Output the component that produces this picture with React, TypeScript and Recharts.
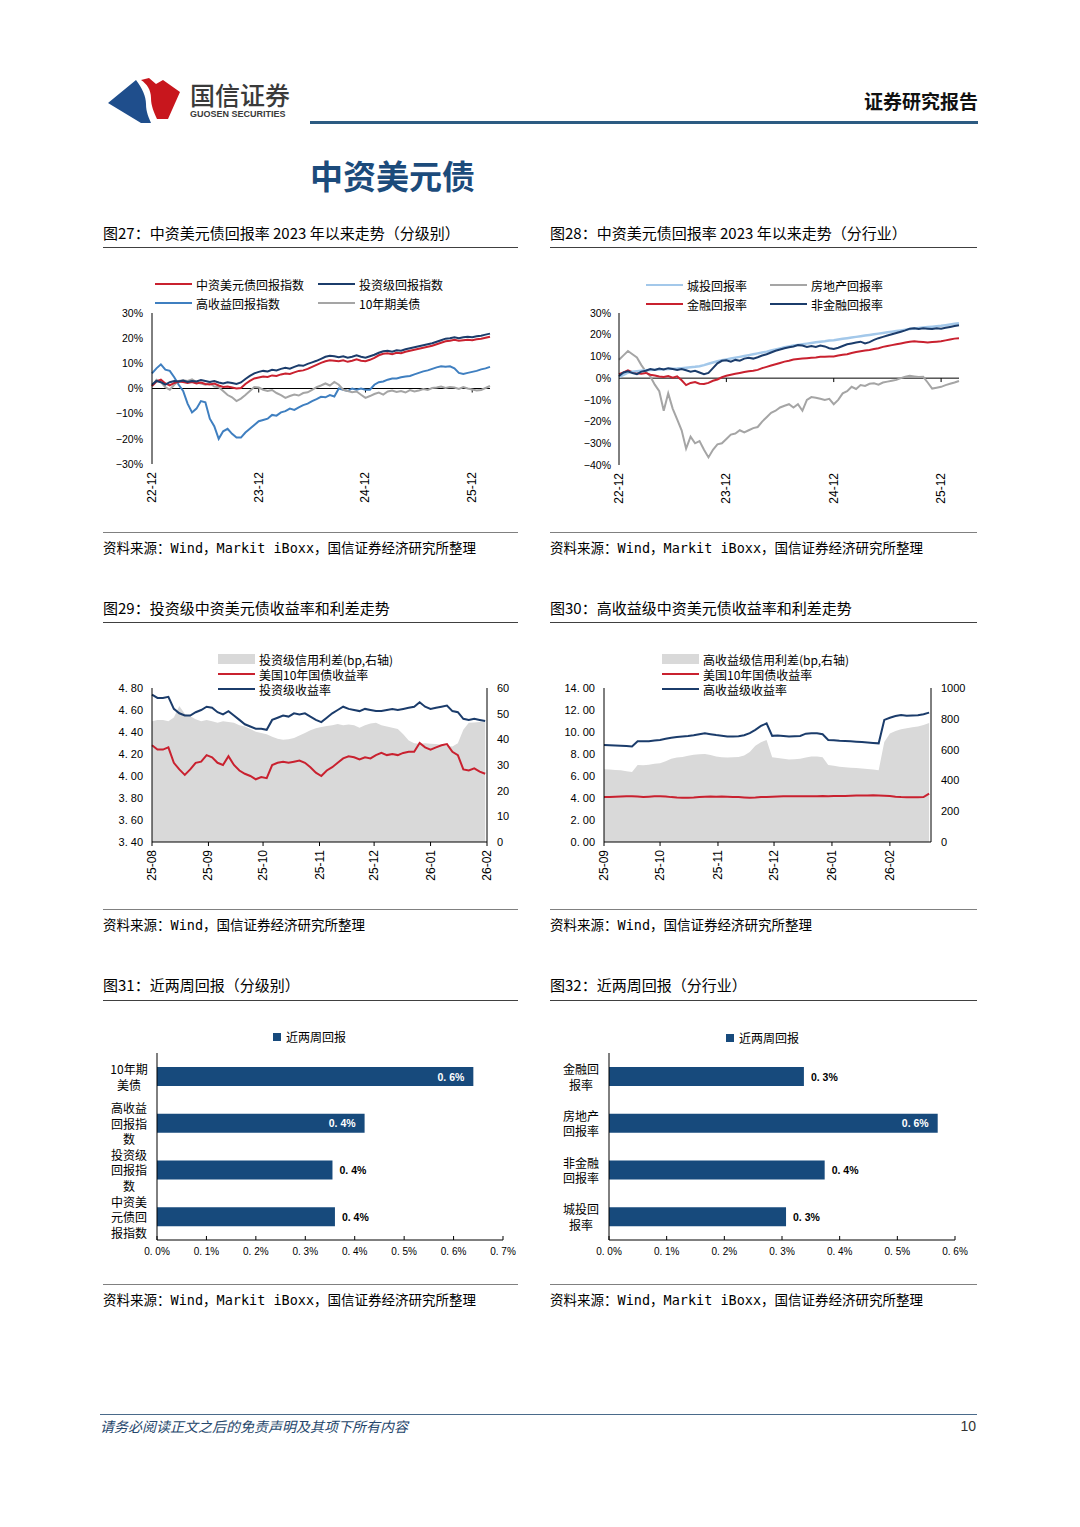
import React from "react";
import {
  LineChart,
  Line,
  ComposedChart,
  Area,
  BarChart,
  Bar,
  LabelList,
  XAxis,
  YAxis,
  ReferenceLine,
} from "recharts";

const CJK = '"Noto Sans CJK SC", "Noto Sans", sans-serif';
const SANS = '"Liberation Sans", Arial, "Noto Sans CJK SC", sans-serif';
const MONO = '"DejaVu Sans Mono", "Noto Sans CJK SC", monospace';

const RED = "#c9212f";
const NAVY = "#1b3c6b";
const HY_BLUE = "#3f7fc0";
const GREY = "#a5a5a5";
const LIGHT_BLUE = "#a3c8ea";
const AREA_GREY = "#d9d9d9";
const BAR_BLUE = "#174a7c";

// ---- 图27 / 图28: half-month steps starting 22-12 (%)
const retTicks = [0, 24, 48, 72];
const retTickLabels = ["22-12", "23-12", "24-12", "25-12"];
const ret27YTicks = [-30, -20, -10, 0, 10, 20, 30];
const ret28YTicks = [-40, -30, -20, -10, 0, 10, 20, 30];

const cnUsdIndex = [
  1.0, 2.8, 3.5, 2.0, 1.2, 2.2, 2.8, 2.6, 2.2, 2.6,
  2.0, 2.4, 1.8, 1.6, 2.0, 1.2, 0.6, 0.8, 0.4, 0.0,
  0.2, 1.8, 3.0, 4.0, 4.4, 4.8, 4.6, 5.2, 5.0, 5.6,
  6.0, 5.8, 6.4, 7.0, 7.2, 7.8, 8.6, 9.4, 10.2, 10.8,
  11.2, 11.0, 10.8, 11.2, 10.6, 11.0, 11.6, 11.0, 10.8, 11.4,
  12.2, 13.2, 13.8, 14.0, 13.6, 14.2, 14.0, 14.6, 15.0, 15.4,
  15.8, 16.2, 16.6, 17.0, 17.6, 18.2, 18.8, 19.0, 19.4, 19.0,
  19.2, 19.4, 19.2, 19.6, 19.8, 20.2, 20.6,
];
const igIndex = [
  1.5, 3.0, 2.5, 1.5, 2.5, 3.0, 2.8, 3.2, 2.6, 3.0,
  2.8, 3.4, 3.0, 2.6, 3.0, 2.4, 2.0, 2.5, 2.2, 1.8,
  2.4, 3.8, 5.0, 6.0, 6.6, 7.0, 6.8, 7.4, 7.2, 7.8,
  8.2, 7.9, 8.6, 9.2, 9.0, 9.8, 10.4, 11.0, 11.8, 12.6,
  13.0, 12.8, 12.4, 12.8, 12.2, 12.6, 13.2, 12.6, 12.2, 12.8,
  13.4, 14.2, 14.8, 15.0, 14.6, 15.2, 15.0, 15.6, 16.0, 16.4,
  16.8, 17.2, 17.6, 18.0, 18.6, 19.2, 19.8, 20.0, 20.4, 20.0,
  20.4, 20.6, 20.4, 20.8, 21.0, 21.4, 21.8,
];
const hyIndex = [
  6.0, 8.0, 9.6, 7.5, 7.0, 4.5, 1.5, -1.0, -6.0, -9.5,
  -8.0, -5.0, -5.5, -12.0, -15.0, -20.0, -17.0, -16.0, -18.0, -19.5,
  -19.5, -17.5, -16.0, -14.5, -13.0, -12.5, -12.0, -10.5, -10.8, -9.5,
  -9.0, -8.0, -8.5, -7.5, -6.6, -6.0, -5.0, -4.2, -3.3, -3.5,
  -2.6, -3.2, 0.0, -0.5, -1.0, 0.0, -0.5, 0.0, -0.5, -0.5,
  1.5, 2.5, 2.8, 3.5, 4.0, 4.0, 4.5, 4.8, 5.0, 5.6,
  6.2, 6.8, 7.2, 7.8, 8.4, 8.8, 8.6, 8.8, 8.0, 6.2,
  5.8, 6.2, 6.6, 7.0, 7.6, 8.0, 8.6,
];
const ust10yRet = [
  1.0, 3.5, 2.5, 0.5, -0.5, 1.5, 3.0, 3.3, 3.0, 3.6,
  2.5, 2.0, 1.5, 2.2, 0.8, 0.5, -1.0, -2.6, -3.5, -5.0,
  -4.0, -2.6, -1.0, 0.6, 0.4, -0.5, -1.0, -0.6, -1.8, -2.6,
  -3.7, -3.0, -2.4, -2.8, -1.8, -1.5, -0.5, 0.5, 1.2, 2.0,
  1.2, 2.6, 1.5, -0.5, -1.0, -1.5, -1.2, -2.5, -3.7, -3.0,
  -2.2, -1.6, -2.4, -1.2, -0.8, -1.4, -1.0, -1.6, -0.6, -1.2,
  -0.8, -0.2, -0.6, 0.2, 0.4, 0.8, 0.2, 0.6, 0.4, -0.2,
  0.6, 0.0, -0.4, -0.8, -0.6, 0.2, 1.0,
];

const lgfvRet = [
  0.5, 1.5, 2.5, 3.0, 3.2, 3.4, 3.6, 3.8, 3.9, 4.0,
  4.1, 4.2, 4.3, 4.4, 4.6, 4.8, 5.0, 5.2, 5.5, 6.0,
  6.6, 7.2, 7.8, 8.2, 8.6, 9.0, 9.4, 9.8, 10.2, 10.6,
  11.0, 11.4, 11.8, 12.2, 12.7, 13.2, 13.7, 14.2, 14.6, 15.0,
  15.3, 15.6, 15.9, 16.2, 16.5, 16.8, 17.0, 17.3, 17.5, 17.8,
  18.1, 18.4, 18.7, 19.0, 19.3, 19.6, 19.9, 20.2, 20.5, 20.8,
  21.1, 21.4, 21.7, 22.0, 22.3, 22.6, 22.9, 23.1, 23.3, 23.5,
  23.7, 23.9, 24.1, 24.4, 24.7, 25.0, 25.3,
];
const propertyRet = [
  8.5, 10.5, 12.5, 11.0, 9.5, 6.0, 3.0, 0.8, -3.0, -6.0,
  -15.0, -7.0, -14.0, -19.0, -24.0, -32.5, -27.0, -30.0, -29.0, -33.0,
  -36.5, -33.0, -30.5, -30.0, -28.0, -26.0, -25.5, -24.0, -25.0, -24.0,
  -23.0, -22.5, -20.0, -18.0, -16.0, -15.0, -13.5, -12.7, -12.0, -13.5,
  -12.0, -15.0, -10.0, -8.7, -9.0, -9.5, -10.0, -9.5, -12.0, -10.0,
  -7.0, -6.0, -4.0, -5.0, -3.2, -3.6, -2.6, -2.4, -3.0, -2.0,
  -1.6, -1.2, -0.8, 0.0, 0.6, 1.1, 0.8, 0.5, 0.6, -2.0,
  -4.8, -4.4, -4.0, -3.2, -2.6, -2.0, -1.3,
];
const financialRet = [
  1.8, 2.6, 3.6, 2.8, 2.2, 2.0, 2.4, 1.6, 1.2, 0.8,
  0.5, 1.0, 0.2, 0.8, -1.0, -3.2, -2.2, -1.8, -2.6, -2.7,
  -2.2, -1.2, -0.6, 0.4, 1.1, 1.6, 2.0, 2.4, 2.8, 3.2,
  3.4, 3.8, 4.6, 5.2, 5.8, 6.4, 7.0, 7.6, 8.0, 8.6,
  8.8, 9.0, 9.2, 9.4, 9.5, 9.8, 9.8, 10.0, 10.0, 10.4,
  10.8, 11.0, 11.6, 12.0, 12.4, 12.7, 13.0, 13.4, 13.8, 14.4,
  14.8, 15.2, 15.6, 16.0, 16.4, 16.8, 17.0, 16.8, 16.6, 16.4,
  16.6, 16.8, 17.0, 17.4, 17.8, 18.2, 18.4,
];
const nonFinRet = [
  1.0, 2.6, 3.2, 2.4, 1.8, 3.0, 3.4, 4.2, 3.8, 4.4,
  4.0, 4.6, 4.2, 3.8, 4.2, 3.6, 3.0, 3.4, 2.6, 1.8,
  2.4, 4.6, 6.8, 8.0, 8.2, 7.6, 8.4, 8.0, 9.0, 9.4,
  9.0, 9.6, 10.4, 11.0, 11.8, 12.6, 13.2, 13.8, 14.2, 14.6,
  15.2, 15.0, 14.4, 14.8, 14.4, 15.0, 14.6, 13.8, 13.4, 14.0,
  14.8, 15.6, 16.0, 16.4, 16.8, 16.0, 16.6, 17.6, 18.4, 19.0,
  19.6, 20.2, 20.8, 21.4, 22.0, 22.8, 23.0, 22.6, 23.0, 22.8,
  22.6, 23.0, 22.8, 23.2, 23.6, 24.0, 24.4,
];

// ---- 图29: every 3 days from 25-08-01
const igDayTicks = [0, 31, 61, 92, 122, 153, 184];
const igDayLabels = ["25-08", "25-09", "25-10", "25-11", "25-12", "26-01", "26-02"];
const igLeftTicks = [3.4, 3.6, 3.8, 4.0, 4.2, 4.4, 4.6, 4.8];
const igRightTicks = [0, 10, 20, 30, 40, 50, 60];
const igSpread = [
  47, 47.5, 47.5, 47, 48.5, 53, 50, 49, 47.8, 47,
  47.5, 47, 46.5, 47, 46.8, 46.5, 45.5, 45, 44, 43,
  42.5, 42, 41, 40.2, 39.8, 40, 40.5, 41.5, 42.5, 43.5,
  44.3, 44.8, 45.2, 45.5, 46, 45.5, 45.8, 45.5, 44.5, 45.5,
  46.2, 46.5, 45.5, 45, 44.5, 44, 42, 39.5, 38.5, 38.3,
  38.5, 38.3, 38.2, 37.9, 37.5, 37.2, 38.5, 43.7, 46.5, 46.6,
  46.8, 46.9,
];
const igYield = [
  4.74, 4.71, 4.71, 4.72, 4.61, 4.57, 4.55, 4.55, 4.58, 4.6,
  4.63, 4.62, 4.58, 4.56, 4.59, 4.55, 4.51, 4.47, 4.45, 4.43,
  4.43, 4.42, 4.51, 4.53, 4.55, 4.54, 4.57, 4.56, 4.57, 4.54,
  4.51, 4.49, 4.53, 4.57, 4.6, 4.63, 4.61, 4.6, 4.59, 4.61,
  4.6, 4.59, 4.59, 4.6, 4.61, 4.6, 4.61, 4.62, 4.63, 4.67,
  4.63, 4.61, 4.62, 4.63, 4.64, 4.59, 4.58, 4.52, 4.51, 4.52,
  4.51, 4.5,
];
const ustYieldIg = [
  4.28, 4.24, 4.24, 4.26, 4.12, 4.06, 4.01, 4.06, 4.12, 4.13,
  4.19, 4.17, 4.12, 4.1, 4.18, 4.1, 4.05, 4.02, 4.0, 3.97,
  3.99, 3.98, 4.1, 4.12, 4.13, 4.12, 4.13, 4.14, 4.12, 4.08,
  4.03, 4.0, 4.05, 4.08, 4.12, 4.16, 4.18, 4.17, 4.15, 4.17,
  4.16, 4.19, 4.21, 4.19, 4.2, 4.19, 4.21, 4.22, 4.22, 4.3,
  4.26, 4.24, 4.26, 4.28, 4.29, 4.22, 4.19, 4.06, 4.05, 4.07,
  4.04, 4.02,
];

// ---- 图30: every 3 days from 25-09-01
const hyDayTicks = [0, 30, 61, 91, 122, 153];
const hyDayLabels = ["25-09", "25-10", "25-11", "25-12", "26-01", "26-02"];
const hyLeftTicks = [0, 2, 4, 6, 8, 10, 12, 14];
const hyRightTicks = [0, 200, 400, 600, 800, 1000];
const hySpread = [
  472, 470, 468, 466, 460, 455, 500, 498, 502, 508,
  512, 525, 540, 548, 552, 560, 566, 570, 572, 565,
  556, 550, 548, 550, 552, 562, 585, 625, 648, 662,
  550, 545, 540, 536, 538, 540, 548, 556, 555, 550,
  500, 495, 488, 485, 482, 480, 478, 474, 470, 466,
  650, 705, 720, 732, 738, 745, 750, 760, 772,
];
const hyYield = [
  8.82, 8.8, 8.78, 8.76, 8.72, 8.68, 9.15, 9.15, 9.16, 9.22,
  9.27, 9.38, 9.48, 9.55, 9.6, 9.64, 9.7, 9.8, 9.88, 9.8,
  9.72, 9.66, 9.6, 9.58, 9.62, 9.7, 9.9, 10.2, 10.55, 10.78,
  9.65, 9.68, 9.64, 9.6, 9.62, 9.64, 9.85, 9.88, 9.88, 9.8,
  9.28, 9.25, 9.2, 9.18, 9.15, 9.12, 9.08, 9.04, 9.0, 8.97,
  11.1, 11.3, 11.45, 11.55, 11.48, 11.5, 11.52, 11.62, 11.76,
];
const ustYieldHy = [
  4.1, 4.09, 4.12, 4.13, 4.15, 4.16, 4.13, 4.1, 4.12, 4.15,
  4.16, 4.14, 4.08, 4.04, 4.02, 4.03, 4.05, 4.1, 4.12, 4.13,
  4.12, 4.14, 4.12, 4.1, 4.08, 4.05, 4.03, 4.04, 4.08, 4.1,
  4.12, 4.14, 4.15, 4.16, 4.17, 4.16, 4.15, 4.16, 4.17, 4.18,
  4.17, 4.18, 4.19, 4.18, 4.2, 4.22, 4.23, 4.22, 4.24, 4.22,
  4.2, 4.18, 4.12, 4.08, 4.06, 4.07, 4.06, 4.08, 4.4,
];

// ---- 图31 / 图32: 近两周回报 (%)
const gradeNames = ["10年期美债", "高收益回报指数", "投资级回报指数", "中资美元债回报指数"];
const gradeLines = [["10年期", "美债"], ["高收益", "回报指", "数"], ["投资级", "回报指", "数"], ["中资美", "元债回", "报指数"]];
const gradeReturns = [0.64, 0.42, 0.355, 0.36];
const gradeTicks = [0, 0.1, 0.2, 0.3, 0.4, 0.5, 0.6, 0.7];

const sectorNames = ["金融回报率", "房地产回报率", "非金融回报率", "城投回报率"];
const sectorLines = [["金融回", "报率"], ["房地产", "回报率"], ["非金融", "回报率"], ["城投回", "报率"]];
const sectorReturns = [0.338, 0.57, 0.374, 0.307];
const sectorTicks = [0, 0.1, 0.2, 0.3, 0.4, 0.5, 0.6];

const pct = (v: number) => (v < 0 ? "\u2212" : "") + Math.abs(v) + "%";
const spaced = (s: string) => s.replace(".", ". ");

const DateTick = (props: any) => {
  const { x, y, payload, ticks, labels, mark } = props;
  const label = labels[ticks.indexOf(payload.value)];
  const ty = y + 8;
  return (
    <g>
      {mark && <line x1={x} x2={x} y1={y} y2={y + 4} stroke="#000" strokeWidth={1} />}
      <text
        x={x}
        y={ty}
        transform={`rotate(-90 ${x} ${ty})`}
        textAnchor="end"
        dominantBaseline="central"
        fontSize={12}
        fontFamily={SANS}
        fill="#000"
      >
        {label}
      </text>
    </g>
  );
};

const PctTick = (props: any) => {
  const { x, y, payload } = props;
  return (
    <g>
      <line x1={x} x2={x} y1={y} y2={y - 4} stroke="#000" strokeWidth={1} />
      <text x={x} y={y + 15} textAnchor="middle" fontSize={10} fontFamily={SANS} fill="#000">
        {spaced(payload.value.toFixed(1)) + "%"}
      </text>
    </g>
  );
};

const CatTick = (props: any) => {
  const { x, y, payload, names, lines } = props;
  const ls: string[] = lines[names.indexOf(payload.value)] || [payload.value];
  const lh = 15.5;
  const y0 = y - ((ls.length - 1) * lh) / 2;
  return (
    <text textAnchor="middle" fontSize={12} fontFamily={CJK} fill="#000">
      {ls.map((l, k) => (
        <tspan key={k} x={x - 28} y={y0 + k * lh} dominantBaseline="central">
          {l}
        </tspan>
      ))}
    </text>
  );
};

const BarValueLabel = (props: any) => {
  const { x, y, width, height, value } = props;
  const inside = value >= 0.4;
  return (
    <text
      x={inside ? x + width - 9 : x + width + 7}
      y={y + height / 2}
      textAnchor={inside ? "end" : "start"}
      dominantBaseline="central"
      fill={inside ? "#fff" : "#000"}
      fontSize={10.5}
      fontWeight="bold"
      fontFamily={SANS}
    >
      {spaced(Number(value).toFixed(1)) + "%"}
    </text>
  );
};

const axisTick = { fontSize: 10.5, fill: "#000", fontFamily: SANS };

function GradeReturnChart() {
  const data = cnUsdIndex.map((v, i) => ({ i, cn: v, ig: igIndex[i], hy: hyIndex[i], ust: ust10yRet[i] }));
  return (
    <LineChart width={410} height={210} data={data} margin={{ top: 13, right: 20, bottom: 0, left: 0 }}>
      <XAxis
        type="number"
        dataKey="i"
        domain={[0, 76]}
        ticks={retTicks}
        interval={0}
        height={46}
        axisLine={false}
        tickLine={false}
        tickSize={0}
        tickMargin={0}
        tick={<DateTick ticks={retTicks} labels={retTickLabels} />}
      />
      <YAxis
        type="number"
        domain={[-30, 30]}
        ticks={ret27YTicks}
        interval={0}
        width={52}
        axisLine={{ stroke: "#000" }}
        tickLine={false}
        tickSize={0}
        tickMargin={9}
        tickFormatter={pct}
        tick={axisTick}
      />
      <ReferenceLine y={0} stroke="#000" strokeWidth={1} />
      {retTicks.slice(1).map((t) => (
        <ReferenceLine key={t} segment={[{ x: t, y: 0 }, { x: t, y: -1.6 }]} stroke="#000" />
      ))}
      <Line dataKey="hy" type="linear" stroke={HY_BLUE} strokeWidth={2} dot={false} isAnimationActive={false} />
      <Line dataKey="ust" type="linear" stroke={GREY} strokeWidth={2} dot={false} isAnimationActive={false} />
      <Line dataKey="cn" type="linear" stroke={RED} strokeWidth={2} dot={false} isAnimationActive={false} />
      <Line dataKey="ig" type="linear" stroke={NAVY} strokeWidth={2} dot={false} isAnimationActive={false} />
    </LineChart>
  );
}

function SectorReturnChart() {
  const data = lgfvRet.map((v, i) => ({ i, lgfv: v, prop: propertyRet[i], fin: financialRet[i], nonfin: nonFinRet[i] }));
  return (
    <LineChart width={430} height={210} data={data} margin={{ top: 13, right: 21, bottom: 0, left: 0 }}>
      <XAxis
        type="number"
        dataKey="i"
        domain={[0, 76]}
        ticks={retTicks}
        interval={0}
        height={45}
        axisLine={false}
        tickLine={false}
        tickSize={0}
        tickMargin={0}
        tick={<DateTick ticks={retTicks} labels={retTickLabels} />}
      />
      <YAxis
        type="number"
        domain={[-40, 30]}
        ticks={ret28YTicks}
        interval={0}
        width={69}
        axisLine={{ stroke: "#000" }}
        tickLine={false}
        tickSize={0}
        tickMargin={8}
        tickFormatter={pct}
        tick={axisTick}
      />
      <ReferenceLine y={0} stroke="#000" strokeWidth={1} />
      {retTicks.slice(1).map((t) => (
        <ReferenceLine key={t} segment={[{ x: t, y: 0 }, { x: t, y: -1.8 }]} stroke="#000" />
      ))}
      <Line dataKey="prop" type="linear" stroke={GREY} strokeWidth={2} dot={false} isAnimationActive={false} />
      <Line dataKey="fin" type="linear" stroke={RED} strokeWidth={2} dot={false} isAnimationActive={false} />
      <Line dataKey="lgfv" type="linear" stroke={LIGHT_BLUE} strokeWidth={2.5} dot={false} isAnimationActive={false} />
      <Line dataKey="nonfin" type="linear" stroke={NAVY} strokeWidth={2} dot={false} isAnimationActive={false} />
    </LineChart>
  );
}

function SpreadChart(props: {
  width: number;
  spread: number[];
  yieldS: number[];
  ust: number[];
  dayTicks: number[];
  dayLabels: string[];
  maxDay: number;
  leftTicks: number[];
  rightTicks: number[];
  leftW: number;
  rightW: number;
}) {
  const { width, spread, yieldS, ust, dayTicks, dayLabels, maxDay, leftTicks, rightTicks, leftW, rightW } = props;
  const data = spread.map((s, k) => ({ d: k * 3, spread: s, yld: yieldS[k], ust: ust[k] }));
  return (
    <ComposedChart width={width} height={245} data={data} margin={{ top: 43, right: 0, bottom: 0, left: 0 }}>
      <XAxis
        type="number"
        dataKey="d"
        domain={[0, maxDay]}
        ticks={dayTicks}
        interval={0}
        height={48}
        axisLine={{ stroke: "#000" }}
        tickLine={false}
        tickSize={0}
        tickMargin={0}
        tick={<DateTick ticks={dayTicks} labels={dayLabels} mark />}
      />
      <YAxis
        yAxisId="l"
        type="number"
        domain={[leftTicks[0], leftTicks[leftTicks.length - 1]]}
        ticks={leftTicks}
        interval={0}
        width={leftW}
        axisLine={{ stroke: "#000" }}
        tickLine={false}
        tickSize={0}
        tickMargin={9}
        tickFormatter={(v: number) => spaced(v.toFixed(2))}
        tick={{ ...axisTick, fontSize: 11 }}
      />
      <YAxis
        yAxisId="r"
        orientation="right"
        type="number"
        domain={[rightTicks[0], rightTicks[rightTicks.length - 1]]}
        ticks={rightTicks}
        interval={0}
        width={rightW}
        axisLine={{ stroke: "#000" }}
        tickLine={false}
        tickSize={0}
        tickMargin={10}
        tick={{ ...axisTick, fontSize: 11 }}
      />
      <Area
        yAxisId="r"
        dataKey="spread"
        type="linear"
        fill={AREA_GREY}
        fillOpacity={1}
        stroke="none"
        isAnimationActive={false}
      />
      <Line yAxisId="l" dataKey="ust" type="linear" stroke={RED} strokeWidth={2} dot={false} isAnimationActive={false} />
      <Line yAxisId="l" dataKey="yld" type="linear" stroke={NAVY} strokeWidth={2} dot={false} isAnimationActive={false} />
    </ComposedChart>
  );
}

function ReturnBars(props: {
  width: number;
  names: string[];
  lines: string[][];
  values: number[];
  ticks: number[];
  yW: number;
  right: number;
}) {
  const { width, names, lines, values, ticks, yW, right } = props;
  const data = names.map((n, k) => ({ name: n, v: values[k] }));
  return (
    <BarChart
      layout="vertical"
      width={width}
      height={250}
      data={data}
      margin={{ top: 33, right, bottom: 0, left: 0 }}
      barSize={19}
    >
      <XAxis
        type="number"
        domain={[0, ticks[ticks.length - 1]]}
        ticks={ticks}
        interval={0}
        height={30}
        axisLine={{ stroke: "#000" }}
        tickLine={false}
        tickSize={0}
        tickMargin={0}
        tick={<PctTick />}
      />
      <YAxis
        type="category"
        dataKey="name"
        width={yW}
        axisLine={{ stroke: "#000" }}
        tickLine={false}
        tickSize={0}
        tickMargin={0}
        interval={0}
        tick={<CatTick names={names} lines={lines} />}
      />
      <Bar dataKey="v" fill={BAR_BLUE} isAnimationActive={false}>
        <LabelList dataKey="v" content={<BarValueLabel />} />
      </Bar>
    </BarChart>
  );
}

const Txt = (p: { x?: number; right?: number; y: number; size: number; style?: React.CSSProperties; children: React.ReactNode }) => (
  <div
    style={{
      position: "absolute",
      left: p.x,
      right: p.right,
      top: p.y - p.size * 0.75,
      fontSize: p.size,
      lineHeight: `${p.size * 1.5}px`,
      whiteSpace: "nowrap",
      ...p.style,
    }}
  >
    {p.children}
  </div>
);

const HLine = (p: { x1: number; x2: number; y: number; color: string; h?: number }) => (
  <div style={{ position: "absolute", left: p.x1, top: p.y, width: p.x2 - p.x1, height: p.h || 1, background: p.color }} />
);

const LegendItem = (p: { x: number; y: number; color: string; label: string; box?: boolean }) => (
  <div
    style={{
      position: "absolute",
      left: p.x,
      top: p.y - 9,
      height: 18,
      display: "flex",
      alignItems: "center",
      whiteSpace: "nowrap",
      fontSize: 12,
      fontFamily: CJK,
      color: "#000",
    }}
  >
    <span
      style={{
        display: "inline-block",
        width: 37,
        height: p.box ? 10 : 2.5,
        background: p.color,
        marginRight: 4,
      }}
    />
    <span>{p.label}</span>
  </div>
);

const Abs = (p: { x: number; y: number; children: React.ReactNode }) => (
  <div style={{ position: "absolute", left: p.x, top: p.y }}>{p.children}</div>
);

const srcFull = "资料来源：Wind，Markit iBoxx，国信证券经济研究所整理";
const srcWind = "资料来源：Wind，国信证券经济研究所整理";

export default function App() {
  const titleStyle = { fontFamily: CJK, color: "#000" };
  const srcStyle = { fontFamily: MONO, color: "#000", letterSpacing: 0 };
  return (
    <div
      style={{
        position: "absolute",
        left: 0,
        top: 0,
        width: 1080,
        height: 1527,
        background: "#fff",
        fontFamily: CJK,
        color: "#000",
        overflow: "hidden",
      }}
    >
      {/* header */}
      <svg style={{ position: "absolute", left: 0, top: 0 }} width={200} height={130}>
        <path d="M108,103 L136,80 C142,88 146,96 146,104 C146,112 149,118 151,123 L141,123 Z" fill="#1f4e8c" />
        <path
          d="M141,80 L149,78 L156,84 L163,80 L180,92 L168,119 L157,119 C154,112 151,106 151,98 C151,90 147,84 141,80 Z"
          fill="#c8161d"
        />
      </svg>
      <Txt x={190} y={95} size={25} style={{ fontWeight: 500, color: "#3a3a3a" }}>
        国信证券
      </Txt>
      <Txt x={190} y={115} size={9} style={{ fontFamily: SANS, fontWeight: "bold", color: "#3a3a3a" }}>
        GUOSEN SECURITIES
      </Txt>
      <Txt right={102} y={101} size={19} style={{ fontWeight: 600, color: "#111" }}>
        证券研究报告
      </Txt>
      <HLine x1={310} x2={978} y={121} h={3} color="#2c5b82" />
      <Txt x={310} y={176} size={33} style={{ fontWeight: 700, color: "#1c4b7b" }}>
        中资美元债
      </Txt>

      {/* row 1 */}
      <Txt x={103} y={233} size={15} style={titleStyle}>
        图27：中资美元债回报率 2023 年以来走势（分级别）
      </Txt>
      <Txt x={550} y={233} size={15} style={titleStyle}>
        图28：中资美元债回报率 2023 年以来走势（分行业）
      </Txt>
      <HLine x1={103} x2={518} y={247} color="#404040" />
      <HLine x1={550} x2={977} y={247} color="#404040" />
      <Abs x={100} y={300}>
        <GradeReturnChart />
      </Abs>
      <Abs x={550} y={300}>
        <SectorReturnChart />
      </Abs>
      <LegendItem x={155} y={284} color={RED} label="中资美元债回报指数" />
      <LegendItem x={318} y={284} color={NAVY} label="投资级回报指数" />
      <LegendItem x={155} y={303} color={HY_BLUE} label="高收益回报指数" />
      <LegendItem x={318} y={303} color={GREY} label="10年期美债" />
      <LegendItem x={646} y={285} color={LIGHT_BLUE} label="城投回报率" />
      <LegendItem x={770} y={285} color={GREY} label="房地产回报率" />
      <LegendItem x={646} y={304} color={RED} label="金融回报率" />
      <LegendItem x={770} y={304} color={NAVY} label="非金融回报率" />
      <HLine x1={103} x2={518} y={532} color="#808080" />
      <HLine x1={550} x2={977} y={532} color="#808080" />
      <Txt x={103} y={548} size={13.5} style={srcStyle}>
        {srcFull}
      </Txt>
      <Txt x={550} y={548} size={13.5} style={srcStyle}>
        {srcFull}
      </Txt>

      {/* row 2 */}
      <Txt x={103} y={608} size={15} style={titleStyle}>
        图29：投资级中资美元债收益率和利差走势
      </Txt>
      <Txt x={550} y={608} size={15} style={titleStyle}>
        图30：高收益级中资美元债收益率和利差走势
      </Txt>
      <HLine x1={103} x2={518} y={622} color="#404040" />
      <HLine x1={550} x2={977} y={622} color="#404040" />
      <Abs x={100} y={645}>
        <SpreadChart
          width={420}
          spread={igSpread}
          yieldS={igYield}
          ust={ustYieldIg}
          dayTicks={igDayTicks}
          dayLabels={igDayLabels}
          maxDay={184}
          leftTicks={igLeftTicks}
          rightTicks={igRightTicks}
          leftW={52}
          rightW={33}
        />
      </Abs>
      <Abs x={550} y={645}>
        <SpreadChart
          width={430}
          spread={hySpread}
          yieldS={hyYield}
          ust={ustYieldHy}
          dayTicks={hyDayTicks}
          dayLabels={hyDayLabels}
          maxDay={175}
          leftTicks={hyLeftTicks}
          rightTicks={hyRightTicks}
          leftW={54}
          rightW={49}
        />
      </Abs>
      <LegendItem x={218} y={659} color={AREA_GREY} label="投资级信用利差(bp,右轴)" box />
      <LegendItem x={218} y={674} color={RED} label="美国10年国债收益率" />
      <LegendItem x={218} y={689} color={NAVY} label="投资级收益率" />
      <LegendItem x={662} y={659} color={AREA_GREY} label="高收益级信用利差(bp,右轴)" box />
      <LegendItem x={662} y={674} color={RED} label="美国10年国债收益率" />
      <LegendItem x={662} y={689} color={NAVY} label="高收益级收益率" />
      <HLine x1={103} x2={518} y={909} color="#808080" />
      <HLine x1={550} x2={977} y={909} color="#808080" />
      <Txt x={103} y={925} size={13.5} style={srcStyle}>
        {srcWind}
      </Txt>
      <Txt x={550} y={925} size={13.5} style={srcStyle}>
        {srcWind}
      </Txt>

      {/* row 3 */}
      <Txt x={103} y={985} size={15} style={titleStyle}>
        图31：近两周回报（分级别）
      </Txt>
      <Txt x={550} y={985} size={15} style={titleStyle}>
        图32：近两周回报（分行业）
      </Txt>
      <HLine x1={103} x2={518} y={1000} color="#404040" />
      <HLine x1={550} x2={977} y={1000} color="#404040" />
      <Abs x={100} y={1020}>
        <ReturnBars width={420} names={gradeNames} lines={gradeLines} values={gradeReturns} ticks={gradeTicks} yW={57} right={17} />
      </Abs>
      <Abs x={550} y={1020}>
        <ReturnBars width={430} names={sectorNames} lines={sectorLines} values={sectorReturns} ticks={sectorTicks} yW={59} right={25} />
      </Abs>
      <div style={{ position: "absolute", left: 273, top: 1033, width: 8, height: 8, background: BAR_BLUE }} />
      <Txt x={286} y={1037} size={12}>近两周回报</Txt>
      <div style={{ position: "absolute", left: 726, top: 1034, width: 8, height: 8, background: BAR_BLUE }} />
      <Txt x={739} y={1038} size={12}>近两周回报</Txt>
      <HLine x1={103} x2={518} y={1284} color="#808080" />
      <HLine x1={550} x2={977} y={1284} color="#808080" />
      <Txt x={103} y={1300} size={13.5} style={srcStyle}>
        {srcFull}
      </Txt>
      <Txt x={550} y={1300} size={13.5} style={srcStyle}>
        {srcFull}
      </Txt>

      {/* footer */}
      <HLine x1={100} x2={977} y={1414} color="#4a6a8a" />
      <Txt x={100} y={1426} size={14} style={{ fontStyle: "italic", color: "#25466b" }}>
        请务必阅读正文之后的免责声明及其项下所有内容
      </Txt>
      <Txt right={104} y={1426} size={14} style={{ fontFamily: SANS, color: "#333" }}>
        10
      </Txt>
    </div>
  );
}
